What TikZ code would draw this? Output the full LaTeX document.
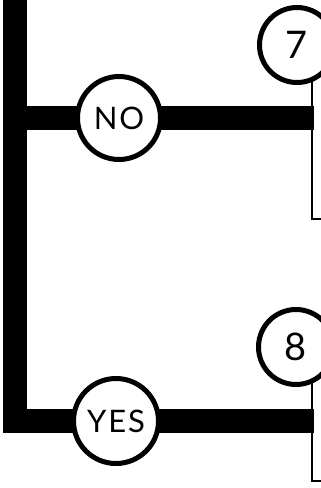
\documentclass[tikz,border=0pt]{standalone}
\usepackage{fontspec}
\setmainfont{Lato}
\usetikzlibrary{backgrounds}
\tikzset{
  bar/.style={line width=24pt, line join=miter, line cap=butt},
  thin/.style={line width=2.6pt, line join=miter},
  ring/.style={circle, draw, line width=5pt, fill=white, inner sep=0pt},
  word/.style={ring, minimum size=83pt, font=\fontsize{31}{31}\selectfont\addfontfeature{LetterSpace=6}},
  num/.style={ring, minimum size=75pt, font=\fontsize{38}{38}\selectfont},
}
\begin{document}
\begin{tikzpicture}[x=1pt,y=-1pt]
\useasboundingbox (0,0) rectangle (321,488);
\clip (0,0) rectangle (321,488);
\node[word] (no) at (119,118) {NO};
\node[word, minimum size=85pt] (yes) at (116,421) {YES};
\node[num] (n7) at (297,45) {7};
\node[num] (n8) at (296,347) {8};
\coordinate (top) at (14.5,-10);
\coordinate (b7) at (312,219);
\coordinate (b8) at (312,481);
\begin{pgfonlayer}{background}
\draw[bar] (top) |- (yes.center) -- (yes.center -| 314,0);
\draw[bar] (no.center -| top) -- (no.center -| 314,0);
\draw[thin] (n7.center -| b7) -- (b7) -- ++(20,0);
\draw[thin] (n8.center -| b8) -- (b8) -- ++(20,0);
\end{pgfonlayer}
\end{tikzpicture}
\end{document}
